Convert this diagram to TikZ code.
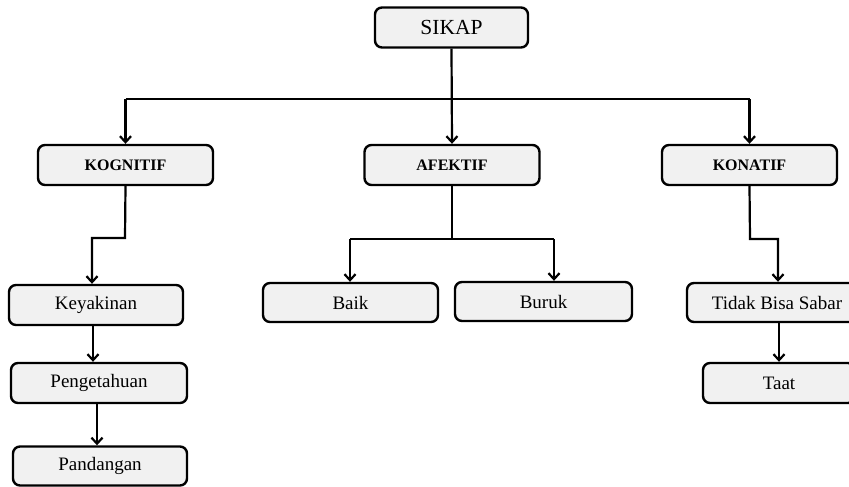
\documentclass[tikz,border=0pt]{standalone}
\usepackage{fontspec}
\setmainfont{Liberation Serif}
\usetikzlibrary{arrows.meta}
\definecolor{boxfill}{HTML}{F1F1F1}
\begin{document}
\begin{tikzpicture}[x=1pt,y=-1pt,
  box/.style={draw=black, line width=2.4pt, rounded corners=7pt, fill=boxfill,
    inner sep=0pt, minimum height=40pt, align=center},
  normtext/.style={font=\fontsize{19}{22}\selectfont},
  boldtext/.style={font=\fontsize{16}{19}\selectfont\bfseries},
  conn/.style={line width=2.2pt},
  arr/.style={conn, -{Straight Barb[length=6pt,width=11pt,line width=2.2pt]}}]
\useasboundingbox (0,0) rectangle (849,487);
\clip (0,0) rectangle (849,487);
% nodes
\node[box, minimum width=153pt, font=\fontsize{21.5}{24}\selectfont] (sikap) at (451.5,27.5) {SIKAP};
\node[box, boldtext, minimum width=175pt] (kog) at (125.5,165) {KOGNITIF};
\node[box, boldtext, minimum width=175pt] (afe) at (452,165) {AFEKTIF};
\node[box, boldtext, minimum width=175pt] (kon) at (749.5,165) {KONATIF};
\node[box, normtext, minimum width=174pt] (key) at (96,305) {Keyakinan};
\node[box, normtext, minimum width=176pt] (pen) at (99,383) {Pengetahuan};
\node[box, normtext, minimum width=174pt, minimum height=39pt] (pan) at (100,466) {Pandangan};
\node[box, normtext, minimum width=175pt, minimum height=39pt] (baik) at (350.5,302.5) {Baik};
\node[box, normtext, minimum width=177pt, minimum height=39pt] (buruk) at (543.5,301.5) {Buruk};
\node[box, normtext, minimum width=180pt, minimum height=39pt] (tidak) at (777,302.5) {Tidak Bisa Sabar};
\node[box, normtext, minimum width=152pt] (taat) at (779,383) {Taat};
% coordinates
\coordinate (bus) at (452,99);
\coordinate (kbend) at (125,238);
\coordinate (kend) at (92,238);
\coordinate (abend) at (452,239);
\coordinate (aL) at (350,239);
\coordinate (aR) at (554,239);
\coordinate (nbend) at (750,239);
\coordinate (nend) at (778,239);
\coordinate (k1) at (93,0);
\coordinate (k2) at (97,0);
\coordinate (t1) at (779,0);
% connectors
\draw[arr] (sikap.south) -- (afe.north);
\draw[conn] (bus -| kog.north) -- (bus -| kon.north);
\draw[arr] (bus -| kog.north) -- (kog.north);
\draw[arr] (bus -| kon.north) -- (kon.north);
\draw[arr] (kog.south) -- (kbend) -- (kend) -- (kend |- key.north);
\draw[arr] (k1 |- key.south) -- (k1 |- pen.north);
\draw[arr] (k2 |- pen.south) -- (k2 |- pan.north);
\draw[conn] (afe.south) -- (abend);
\draw[conn] (aL) -- (aR);
\draw[arr] (aL) -- (aL |- baik.north);
\draw[arr] (aR) -- (aR |- buruk.north);
\draw[arr] (kon.south) -- (nbend) -- (nend) -- (nend |- tidak.north);
\draw[arr] (t1 |- tidak.south) -- (t1 |- taat.north);
\end{tikzpicture}
\end{document}
